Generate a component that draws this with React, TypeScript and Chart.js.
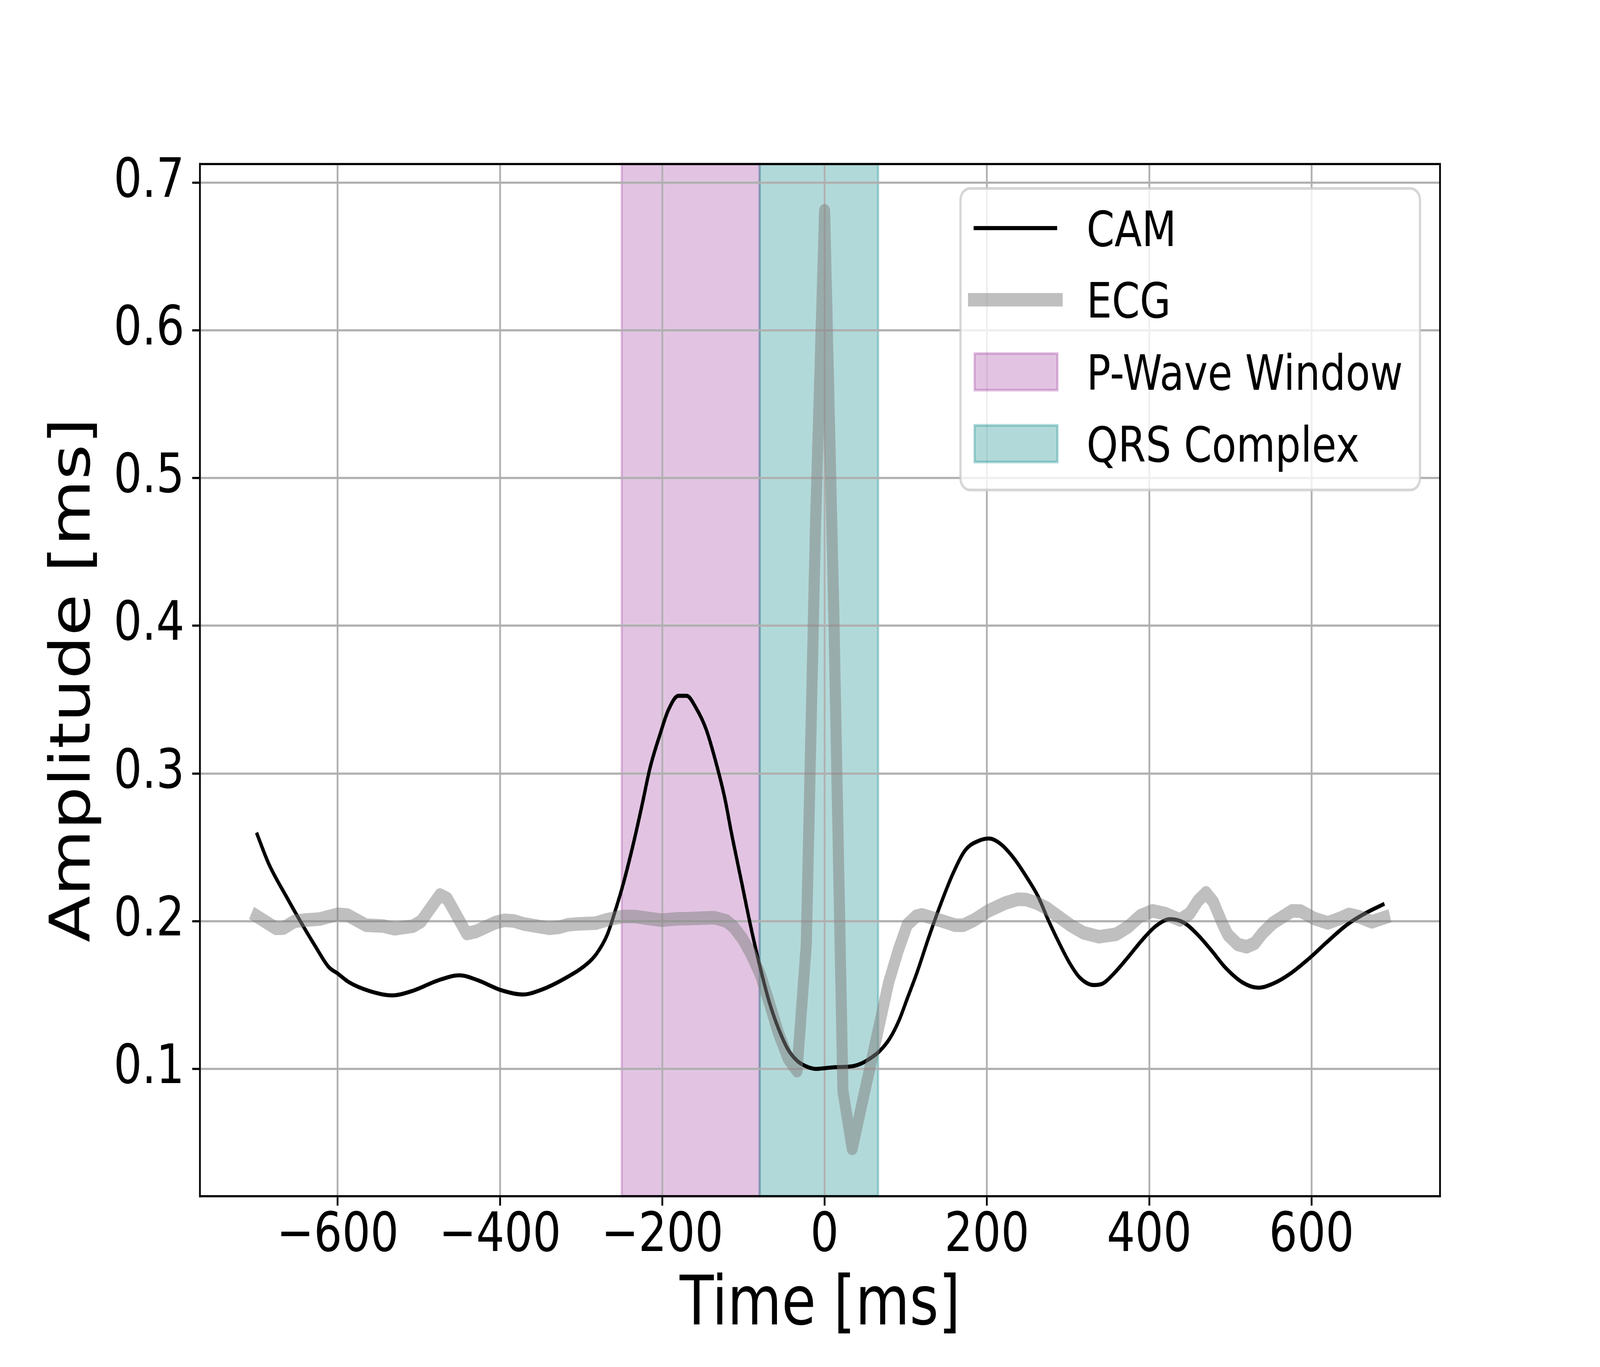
import { useEffect, useRef } from "react";
import { Chart, registerables } from "chart.js";

Chart.register(...registerables);

const FONT = "DejaVu Sans";

// CAM curve (black)
const camTime = [
  -700, -685, -663, -646, -628, -611, -600, -586, -561, -533, -508, -476, -450,
  -427, -399, -372, -350, -321, -293, -281, -268, -258, -248, -235, -225, -215,
  -202.5, -192.5, -180, -170, -158.5, -146, -134.6, -123, -114.5, -103, -90.6,
  -79.3, -68, -56.6, -45.3, -34, -22.6, -10.6, 0, 12.6, 32.7, 45.3, 56.6, 68,
  80.5, 91.8, 101.9, 113.7, 128.6, 143.6, 158.5, 173.5, 190.6, 202.6, 216, 233,
  250.4, 263.3, 276, 288.9, 301.7, 314.5, 331.6, 342.3, 357.3, 374.4, 391.5,
  408.6, 425.7, 442.8, 459.9, 477, 494, 515.4, 534.6, 553.9, 575.3, 596.6, 618,
  643.6, 665, 689.8,
];
const camAmp = [
  0.26, 0.239, 0.2165, 0.2, 0.1835, 0.169, 0.1646, 0.1587, 0.1528, 0.1498,
  0.1528, 0.16, 0.1634, 0.16, 0.1534, 0.1504, 0.1534, 0.161, 0.171, 0.178,
  0.1906, 0.207, 0.2255, 0.254, 0.2785, 0.304, 0.327, 0.343, 0.3526, 0.3526,
  0.3445, 0.33, 0.309, 0.2834, 0.259, 0.2284, 0.1954, 0.1685, 0.145, 0.127,
  0.1134, 0.1056, 0.1017, 0.1, 0.1005, 0.1012, 0.1017, 0.1037, 0.1073, 0.1122,
  0.1208, 0.133, 0.1477, 0.165, 0.1895, 0.2124, 0.2327, 0.2482, 0.2546, 0.256,
  0.2527, 0.2428, 0.2286, 0.2165, 0.2003, 0.1854, 0.1719, 0.1618, 0.1568,
  0.1577, 0.1651, 0.176, 0.1874, 0.1969, 0.2014, 0.199, 0.1908, 0.18, 0.1685,
  0.1584, 0.155, 0.1581, 0.1651, 0.1746, 0.1854, 0.1976, 0.205, 0.2118,
];

// ECG trace (thick grey)
const ecgTime = [
  -700, -676, -667, -653, -639, -622, -600, -588, -565, -543, -530, -507, -497,
  -474, -465, -441, -430, -406, -395, -383, -371, -339, -327, -316, -304, -282,
  -268, -249, -234, -219, -201, -180, -171, -136, -121, -112, -101, -91, -79,
  -68, -57, -45, -34, -22.6, -11.3, 0, 11.3, 22.6, 34, 79, 91, 102, 113, 120,
  144, 161, 171, 184, 201, 223, 238, 248, 261, 274, 287, 304, 319, 338, 359,
  374, 389, 404, 420, 438, 450, 460, 470, 479, 490, 497, 509, 520, 530, 539,
  552, 576, 587, 603, 620, 635, 646, 659, 674, 690,
];
const ecgAmp = [
  0.2035, 0.1952, 0.1953, 0.2, 0.2008, 0.2015, 0.2047, 0.2042, 0.1973, 0.1967,
  0.1949, 0.1967, 0.2, 0.2177, 0.2153, 0.1917, 0.193, 0.199, 0.2006, 0.2002,
  0.1982, 0.1952, 0.1959, 0.1976, 0.1982, 0.1987, 0.201, 0.2032, 0.2032, 0.202,
  0.2007, 0.2017, 0.2017, 0.2024, 0.2002, 0.196, 0.188, 0.1782, 0.1636, 0.1445,
  0.1245, 0.1073, 0.0988, 0.184, 0.466, 0.681, 0.41, 0.085, 0.0462, 0.1587,
  0.1807, 0.1978, 0.2034, 0.2043, 0.2003, 0.1973, 0.1973, 0.2007, 0.2068,
  0.2124, 0.2149, 0.2147, 0.2124, 0.2088, 0.2036, 0.1969, 0.1922, 0.1895,
  0.1911, 0.1962, 0.2036, 0.207, 0.2051, 0.2009, 0.2053, 0.2138, 0.2192,
  0.2131, 0.1986, 0.1908, 0.1843, 0.1827, 0.1851, 0.1915, 0.1986, 0.207,
  0.2068, 0.2019, 0.1989, 0.2019, 0.2046, 0.203, 0.1996, 0.2025,
];

// shaded windows
const spanLabels = ["P-Wave Window", "QRS Complex"];
const spanStart = [-250, -80];
const spanEnd = [-80, 66];
const spanColors = ["rgba(128, 0, 128, 0.23)", "rgba(0, 128, 128, 0.3)"];

const xTicks = [-600, -400, -200, 0, 200, 400, 600];
const yTicks = [0.1, 0.2, 0.3, 0.4, 0.5, 0.6, 0.7];

const camColor = "#000000";
const ecgColor = "rgba(128, 128, 128, 0.5)";
const camWidth = 10.4;
const ecgWidth = 34.7;
const spineWidth = 5.56;

const fmtX = (v: number) => (v < 0 ? "\u2212" + Math.abs(v) : String(v));

const spanPlugin = {
  id: "spans",
  beforeDraw(chart: any) {
    const { ctx, chartArea } = chart;
    const x = chart.scales.x;
    ctx.save();
    spanStart.forEach((s, i) => {
      const x0 = x.getPixelForValue(s);
      const x1 = x.getPixelForValue(spanEnd[i]);
      ctx.fillStyle = spanColors[i];
      ctx.fillRect(x0, chartArea.top, x1 - x0, chartArea.bottom - chartArea.top);
      ctx.strokeStyle = spanColors[i];
      ctx.lineWidth = 6.9;
      ctx.strokeRect(x0, chartArea.top, x1 - x0, chartArea.bottom - chartArea.top);
    });
    ctx.restore();
  },
};

const framePlugin = {
  id: "frame",
  afterDatasetsDraw(chart: any) {
    const { ctx, chartArea } = chart;
    ctx.save();
    ctx.strokeStyle = "#000";
    ctx.lineWidth = spineWidth;
    ctx.lineCap = "square";
    ctx.beginPath();
    ctx.moveTo(chartArea.left, chartArea.top);
    ctx.lineTo(chartArea.right, chartArea.top);
    ctx.lineTo(chartArea.right, chartArea.bottom);
    ctx.stroke();
    ctx.restore();
  },
};

const legendPlugin = {
  id: "boxLegend",
  afterDraw(chart: any) {
    const { ctx, chartArea } = chart;
    const fs = 125;
    const pad = 62.5;
    const boxW = 1436;
    const boxH = 772;
    const right = chartArea.right - pad;
    const top = chartArea.top + pad;
    const left = right - boxW;
    ctx.save();
    ctx.beginPath();
    ctx.roundRect(left, top, boxW, boxH, 30);
    ctx.fillStyle = "rgba(255, 255, 255, 0.8)";
    ctx.fill();
    ctx.strokeStyle = "rgba(204, 204, 204, 0.8)";
    ctx.lineWidth = 7;
    ctx.stroke();

    const rows = [101.5, 285, 469.5, 653.5].map((r) => top + r);
    const h0 = left + 41;
    const h1 = left + 302;
    const tx = left + 394;

    const items: any[] = [
      { label: "CAM", kind: "line", color: camColor, width: camWidth, cap: "butt" },
      { label: "ECG", kind: "line", color: ecgColor, width: ecgWidth, cap: "square" },
      ...spanLabels.map((l, i) => ({ label: l, kind: "patch", color: spanColors[i] })),
    ];
    items.forEach((it, i) => {
      const cy = rows[i];
      if (it.kind === "line") {
        ctx.beginPath();
        ctx.strokeStyle = it.color;
        ctx.lineWidth = it.width;
        ctx.lineCap = it.cap;
        ctx.moveTo(h0, cy);
        ctx.lineTo(h1, cy);
        ctx.stroke();
      } else {
        ctx.fillStyle = it.color;
        ctx.fillRect(h0 + 3, cy - 47, h1 - h0 - 2, 94);
        ctx.strokeStyle = it.color;
        ctx.lineWidth = 6.9;
        ctx.strokeRect(h0 + 3, cy - 47, h1 - h0 - 2, 94);
      }
      ctx.fillStyle = "#000";
      ctx.font = `${fs}px "${FONT}"`;
      ctx.textAlign = "left";
      ctx.textBaseline = "alphabetic";
      ctx.fillText(it.label, tx, cy + 45.5);
    });
    ctx.restore();
  },
};

export default function App() {
  const canvasRef = useRef<HTMLCanvasElement>(null);
  const chartRef = useRef<Chart | null>(null);

  useEffect(() => {
    document.body.style.margin = "0";
    document.body.style.overflow = "hidden";
    const canvas = canvasRef.current;
    if (!canvas) return;
    if (chartRef.current) chartRef.current.destroy();

    // the drawing is laid out at 5000x3500 and shown over the whole viewport
    canvas.style.width = `${window.innerWidth}px`;
    canvas.style.height = `${window.innerHeight}px`;

    const gridOpts = {
      color: "#b0b0b0",
      lineWidth: spineWidth,
      drawTicks: true,
      tickLength: 24.3,
      tickColor: "#000",
      tickWidth: spineWidth,
    };

    chartRef.current = new Chart(canvas, {
      type: "line",
      data: {
        datasets: [
          {
            label: "CAM",
            data: camTime.map((t, i) => ({ x: t, y: camAmp[i] })),
            borderColor: camColor,
            borderWidth: camWidth,
            pointRadius: 0,
            cubicInterpolationMode: "monotone",
            borderJoinStyle: "round",
            order: 2,
          },
          {
            label: "ECG",
            data: ecgTime.map((t, i) => ({ x: t, y: ecgAmp[i] })),
            borderColor: ecgColor,
            borderWidth: ecgWidth,
            pointRadius: 0,
            tension: 0,
            borderJoinStyle: "round",
            borderCapStyle: "square",
            order: 1,
          },
        ],
      },
      options: {
        animation: false,
        responsive: false,
        devicePixelRatio: 1,
        layout: { padding: { left: 0, top: 420, right: 500, bottom: 0 } },
        plugins: {
          legend: { display: false },
          tooltip: { enabled: false },
        },
        scales: {
          x: {
            type: "linear",
            min: -769.6,
            max: 758.3,
            afterBuildTicks: (sc: any) => {
              sc.ticks = xTicks.map((v) => ({ value: v }));
            },
            afterFit: (sc: any) => {
              sc.height = 437.5;
            },
            grid: gridOpts,
            border: { display: true, color: "#000", width: spineWidth, z: 1 },
            ticks: {
              color: "#000",
              padding: -3,
              maxRotation: 0,
              autoSkip: false,
              font: { family: FONT, size: 139 },
              callback: (v: any) => fmtX(Number(v)),
            },
            title: {
              display: true,
              text: "Time [ms]",
              color: "#000",
              font: { family: FONT, size: 174 },
              padding: { top: 0, bottom: 50 },
            },
          },
          y: {
            type: "linear",
            min: 0.0139,
            max: 0.7126,
            afterBuildTicks: (sc: any) => {
              sc.ticks = yTicks.map((v) => ({ value: v }));
            },
            afterFit: (sc: any) => {
              sc.width = 625;
            },
            grid: gridOpts,
            border: { display: true, color: "#000", width: spineWidth, z: 1 },
            ticks: {
              color: "#000",
              padding: 24.3,
              autoSkip: false,
              font: { family: FONT, size: 139 },
              callback: (v: any) => Number(v).toFixed(1),
            },
            title: {
              display: true,
              text: "Amplitude [ms]",
              color: "#000",
              font: { family: FONT, size: 174 },
              padding: { top: 130, bottom: 0 },
            },
          },
        },
      },
      plugins: [spanPlugin, framePlugin, legendPlugin],
    });

    return () => {
      if (chartRef.current) {
        chartRef.current.destroy();
        chartRef.current = null;
      }
    };
  }, []);

  return (
    <div style={{ background: "#fff" }}>
      <canvas ref={canvasRef} width={5000} height={3500} style={{ display: "block" }} />
    </div>
  );
}
